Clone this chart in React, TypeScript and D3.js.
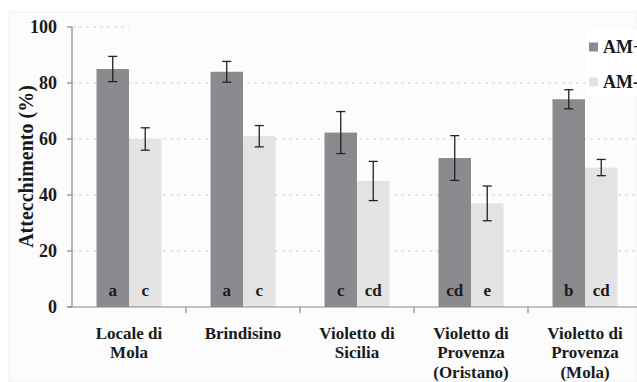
import React from "react";
import * as d3 from "d3";

const categories = [
  ["Locale di", "Mola"],
  ["Brindisino"],
  ["Violetto di", "Sicilia"],
  ["Violetto di", "Provenza", "(Oristano)"],
  ["Violetto di", "Provenza", "(Mola)"],
];
const seriesNames = ["AM+", "AM-"];
const amPlus = [85, 84, 62.3, 53.2, 74.2];
const amPlusErr = [4.5, 3.7, 7.5, 8, 3.4];
const amMinus = [60, 61, 45, 37, 49.8];
const amMinusErr = [4, 3.8, 7, 6.2, 2.9];
const lettersPlus = ["a", "a", "c", "cd", "b"];
const lettersMinus = ["c", "c", "cd", "e", "cd"];
const yTicks = [0, 20, 40, 60, 80, 100];

const W = 637;
const H = 382;
const colors = ["#8b8b8f", "#e3e3e3"];
const FONT = "'Liberation Serif', 'Times New Roman', serif";

export default function App() {
  const keys = categories.map((c) => c.join(" "));
  const x0 = d3.scaleBand<string>().domain(keys).range([72, 642]).padding(0);
  const bw = x0.bandwidth();
  const barW = 32.5;
  const x1 = d3
    .scaleBand<string>()
    .domain(seriesNames)
    .range([bw / 2 - barW, bw / 2 + barW])
    .padding(0);
  const y = d3.scaleLinear().domain([0, 100]).range([307, 27]);

  const values = [amPlus, amMinus];
  const errs = [amPlusErr, amMinusErr];
  const letters = [lettersPlus, lettersMinus];

  return (
    <svg
      width={W}
      height={H}
      style={{ position: "absolute", left: 0, top: 0, display: "block" }}
      fontFamily={FONT}
    >
      <rect x={0} y={0} width={W} height={H} fill="#ffffff" />
      <rect x={9} y={12} width={W - 9} height={H - 12} fill="#fcfcfc" stroke="#f1f1f1" />

      {/* gridlines */}
      {yTicks
        .filter((t) => t > 0)
        .map((t) => (
          <line
            key={t}
            x1={72}
            x2={t === 100 ? x0(keys[0])! + bw / 2 : W}
            y1={y(t)}
            y2={y(t)}
            stroke="#cfcfcf"
            strokeDasharray="3,4"
            strokeWidth={1}
          />
        ))}

      {/* bars */}
      {keys.map((k, i) => (
        <g key={k} transform={`translate(${x0(k)},0)`}>
          {seriesNames.map((s, j) => {
            const v = values[j][i];
            const e = errs[j][i];
            const bx = x1(s)!;
            const cx = bx + x1.bandwidth() / 2;
            return (
              <g key={s}>
                <rect
                  x={bx}
                  y={y(v)}
                  width={x1.bandwidth()}
                  height={y(0) - y(v)}
                  fill={colors[j]}
                />
                <line x1={cx} x2={cx} y1={y(v + e)} y2={y(v - e)} stroke="#222" strokeWidth={1.3} />
                <line x1={cx - 4.5} x2={cx + 4.5} y1={y(v + e)} y2={y(v + e)} stroke="#222" strokeWidth={1.3} />
                <line x1={cx - 4.5} x2={cx + 4.5} y1={y(v - e)} y2={y(v - e)} stroke="#222" strokeWidth={1.3} />
                <text
                  x={cx}
                  y={y(0) - 11.5}
                  textAnchor="middle"
                  fontSize={17}
                  fontWeight="bold"
                  fill="#1a1a1a"
                >
                  {letters[j][i]}
                </text>
              </g>
            );
          })}
        </g>
      ))}

      {/* y axis */}
      <line x1={72} x2={72} y1={y(100)} y2={y(0)} stroke="#8a8a8a" strokeWidth={1.2} />
      {yTicks.map((t) => (
        <g key={t}>
          <line x1={67} x2={72} y1={y(t)} y2={y(t)} stroke="#8a8a8a" strokeWidth={1.2} />
          <text
            x={57}
            y={y(t)}
            dy="0.33em"
            textAnchor="end"
            fontSize={18}
            fontWeight="bold"
            fill="#1a1a1a"
          >
            {t}
          </text>
        </g>
      ))}

      {/* x axis */}
      <line x1={67} x2={W} y1={y(0)} y2={y(0)} stroke="#8a8a8a" strokeWidth={1.2} />
      {keys.slice(1).map((k) => (
        <line key={k} x1={x0(k)!} x2={x0(k)!} y1={y(0)} y2={y(0) + 6} stroke="#8a8a8a" strokeWidth={1.2} />
      ))}
      {categories.map((lines, i) => (
        <text
          key={i}
          x={x0(keys[i])! + bw / 2}
          y={339}
          textAnchor="middle"
          fontSize={17}
          fontWeight="bold"
          fill="#1a1a1a"
        >
          {lines.map((l, li) => (
            <tspan key={li} x={x0(keys[i])! + bw / 2} dy={li === 0 ? 0 : 19.3}>
              {l}
            </tspan>
          ))}
        </text>
      ))}

      {/* y axis title */}
      <text
        transform={`translate(33,${y(50) - 0.5}) rotate(-90)`}
        textAnchor="middle"
        fontSize={20}
        fontWeight="bold"
        fill="#1a1a1a"
      >
        Attecchimento (%)
      </text>

      {/* legend */}
      <rect x={586} y={30} width={W - 586} height={66} fill="#ffffff" />
      {seriesNames.map((s, j) => (
        <g key={s} transform={`translate(589,${47 + j * 35})`}>
          <rect x={0} y={-4.5} width={9} height={9} fill={colors[j]} />
          <text x={14} y={0} dy="0.35em" fontSize={18} fontWeight="bold" fill="#1a1a1a">
            {s}
          </text>
        </g>
      ))}
    </svg>
  );
}
